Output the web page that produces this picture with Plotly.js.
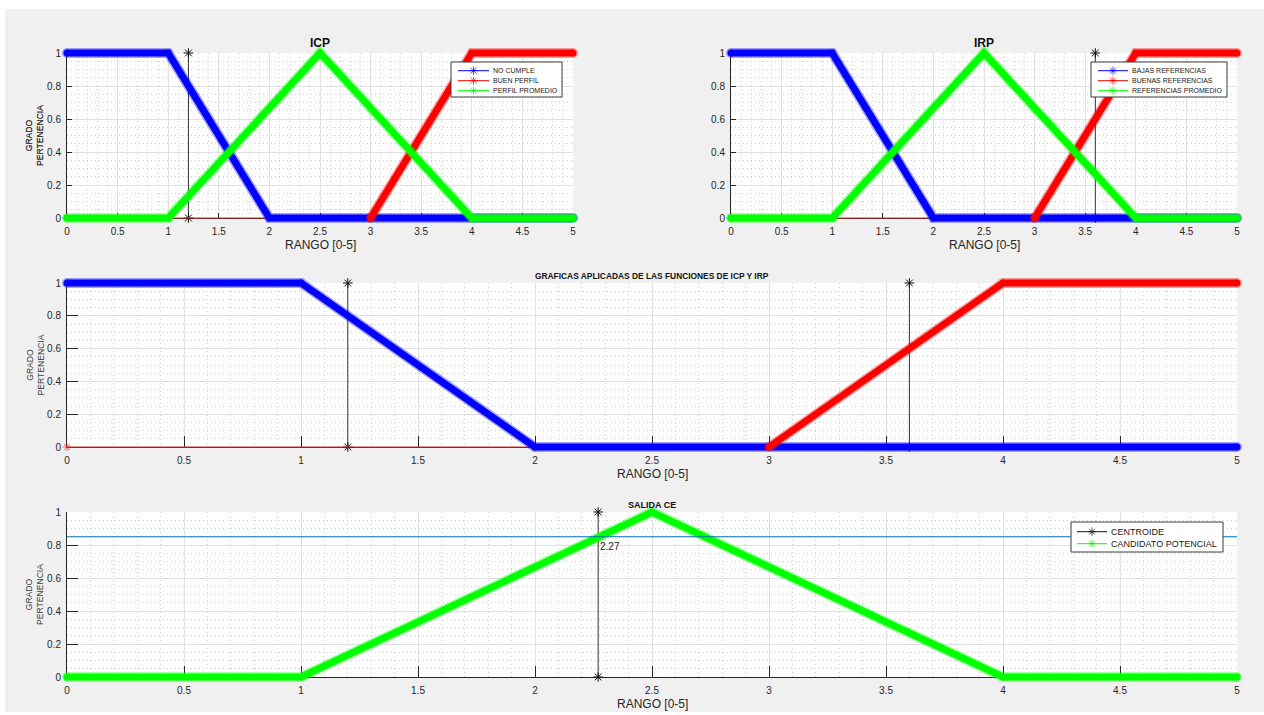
<!DOCTYPE html>
<html><head><meta charset="utf-8">
<script src="https://cdn.plot.ly/plotly-3.0.1.min.js"></script>
<style>
html,body{margin:0;padding:0;background:#ffffff;}
#chart{position:absolute;left:5px;top:9px;width:1259px;height:703px;}
</style>
</head><body>
<div id="chart"></div>
<script>
// ---------- DATA ----------
const xTicks = [0, 0.5, 1, 1.5, 2, 2.5, 3, 3.5, 4, 4.5, 5];
const xTickText = ['0', '0.5', '1', '1.5', '2', '2.5', '3', '3.5', '4', '4.5', '5'];
const yTicks = [0, 0.2, 0.4, 0.6, 0.8, 1];
const yTickText = ['0', '0.2', '0.4', '0.6', '0.8', '1'];
const rango = [0, 5];
const gradoRango = [0, 1];

// ICP
const noCumpleX = [0, 1, 2, 5];
const noCumpleY = [1, 1, 0, 0];
const buenPerfilX = [0, 3, 4, 5];
const buenPerfilY = [0, 0, 1, 1];
const perfilPromedioX = [0, 1, 2.5, 4, 5];
const perfilPromedioY = [0, 0, 1, 0, 0];
const entradaICP = 1.2;

// IRP
const bajasRefX = [0, 1, 2, 5];
const bajasRefY = [1, 1, 0, 0];
const buenasRefX = [0, 3, 4, 5];
const buenasRefY = [0, 0, 1, 1];
const refPromedioX = [0, 1, 2.5, 4, 5];
const refPromedioY = [0, 0, 1, 0, 0];
const entradaIRP = 3.6;

// Aplicadas
const aplicadaICPX = [0, 1, 2, 5];
const aplicadaICPY = [1, 1, 0, 0];
const aplicadaIRPX = [0, 3, 4, 5];
const aplicadaIRPY = [0, 0, 1, 1];

// Salida
const candidatoX = [0, 1, 2.5, 4, 5];
const candidatoY = [0, 0, 1, 0, 0];
const centroide = 2.27;
const nivelCorte = 0.85;

// ---------- LAYOUT GEOMETRY ----------
const W = 1259, H = 703, OX = 5, OY = 9, PAD = 10;
const FONT = 'Liberation Sans, Arial, Helvetica, sans-serif';
const AX = '#262626';
function xd(px) { return (px - OX) / W; }
function yd(py) { return 1 - (py - OY) / H; }
function lx(px) { return px - OX; }
function ly(py) { return py - OY; }

const panels = [
  {x0: 67, x1: 573, yt: 53, yb: 218, tl: 5},
  {x0: 731, x1: 1237, yt: 53, yb: 218, tl: 5},
  {x0: 67, x1: 1237, yt: 283, yb: 447, tl: 11},
  {x0: 67, x1: 1237, yt: 512, yb: 677, tl: 11}
];

const layout = {
  width: W, height: H,
  margin: {l: 0, r: 0, t: 0, b: 0, pad: 0},
  paper_bgcolor: '#f0f0f0',
  plot_bgcolor: 'rgba(0,0,0,0)',
  showlegend: false,
  hovermode: false,
  font: {family: FONT, color: AX},
  shapes: [],
  annotations: []
};

const MINOR = {showgrid: true, gridcolor: '#cfcfcf', griddash: '1px,3px', gridwidth: 1, ticks: ''};
panels.forEach((p, i) => {
  const s = i === 0 ? '' : String(i + 1);
  const m = String(i + 5);
  layout['xaxis' + s] = {
    domain: [xd(p.x0), xd(p.x1)], range: [0, 5], anchor: 'y' + s,
    tickmode: 'array', tickvals: xTicks, ticktext: xTickText,
    ticks: 'inside', ticklen: p.tl, tickwidth: 1, tickcolor: AX, ticklabelstandoff: 4,
    showline: true, linecolor: AX, linewidth: 1, mirror: false,
    showgrid: true, gridcolor: '#e0e0e0', gridwidth: 1, zeroline: false,
    minor: Object.assign({tickmode: 'linear', tick0: 0, dtick: 0.1}, MINOR),
    tickfont: {size: 10, color: AX, family: FONT}, fixedrange: true
  };
  layout['yaxis' + s] = {
    domain: [yd(p.yb), yd(p.yt)], range: [0, 1], anchor: 'x' + s,
    tickmode: 'array', tickvals: yTicks, ticktext: yTickText,
    ticks: 'inside', ticklen: p.tl, tickwidth: 1, tickcolor: AX, ticklabelstandoff: 3,
    showline: true, linecolor: AX, linewidth: 1, mirror: false,
    showgrid: true, gridcolor: '#e0e0e0', gridwidth: 1, zeroline: false,
    minor: Object.assign({tickmode: 'linear', tick0: 0, dtick: 0.05}, MINOR),
    tickfont: {size: 10, color: AX, family: FONT}, fixedrange: true
  };
  const dx = PAD * 5 / (p.x1 - p.x0), dy = PAD / (p.yb - p.yt);
  layout['xaxis' + m] = {domain: [xd(p.x0 - PAD), xd(p.x1 + PAD)], range: [-dx, 5 + dx], anchor: 'y' + m, visible: false, fixedrange: true};
  layout['yaxis' + m] = {domain: [yd(p.yb + PAD), yd(p.yt - PAD)], range: [-dy, 1 + dy], anchor: 'x' + m, visible: false, fixedrange: true};
  layout.shapes.push({type: 'rect', xref: 'x' + s, yref: 'y' + s, x0: 0, x1: 5, y0: 0, y1: 1, fillcolor: '#ffffff', line: {width: 0}, layer: 'below'});
});
layout.xaxis9 = {domain: [0, 1], range: [0, W], anchor: 'y9', visible: false, fixedrange: true};
layout.yaxis9 = {domain: [0, 1], range: [H, 0], anchor: 'x9', visible: false, fixedrange: true};

// ---------- TRACES ----------
const traces = [];
function ax(i) { return {xaxis: 'x' + (i + 5), yaxis: 'y' + (i + 5)}; }
function thick(x, y, color, i) {
  // soft halo imitating the jagged edge of the dense '*' markers
  traces.push(Object.assign({type: 'scatter', mode: 'lines+markers', x: x, y: y, opacity: 0.35,
    line: {color: color, width: 10}, marker: {symbol: 'circle', size: 10, color: color}, cliponaxis: false}, ax(i)));
  traces.push(Object.assign({type: 'scatter', mode: 'lines+markers', x: x, y: y,
    line: {color: color, width: 7}, marker: {symbol: 'circle', size: 7, color: color}, cliponaxis: false}, ax(i)));
}
function thin(x, y, color, i) {
  traces.push(Object.assign({type: 'scatter', mode: 'lines+markers', x: x, y: y,
    line: {color: color, width: 1}, marker: {symbol: 'asterisk-open', size: x.map((v, k) => k === 0 ? 7 : 0), color: color, line: {width: 1, color: color}}, cliponaxis: false}, ax(i)));
}
function vline(xv, i) {
  traces.push(Object.assign({type: 'scatter', mode: 'lines+markers', x: [xv, xv], y: gradoRango,
    line: {color: '#333333', width: 1}, marker: {symbol: 'asterisk-open', size: 8, color: '#111111', line: {width: 1, color: '#111111'}}, cliponaxis: false}, ax(i)));
}
const BLUE = '#0000ff', RED = '#ff0000', GREEN = '#00ff00';

// Panel ICP
vline(entradaICP, 0);
thin(buenPerfilX.slice(0, 2), buenPerfilY.slice(0, 2), '#e03030', 0);
thick(noCumpleX, noCumpleY, BLUE, 0);
thick(buenPerfilX.slice(1), buenPerfilY.slice(1), RED, 0);
thick(perfilPromedioX, perfilPromedioY, GREEN, 0);
// Panel IRP
vline(entradaIRP, 1);
thin(buenasRefX.slice(0, 2), buenasRefY.slice(0, 2), '#e03030', 1);
thick(bajasRefX, bajasRefY, BLUE, 1);
thick(buenasRefX.slice(1), buenasRefY.slice(1), RED, 1);
thick(refPromedioX, refPromedioY, GREEN, 1);
// Panel aplicadas
vline(entradaICP, 2);
vline(entradaIRP, 2);
thin(aplicadaIRPX.slice(0, 2), aplicadaIRPY.slice(0, 2), '#e03030', 2);
thick(aplicadaICPX, aplicadaICPY, BLUE, 2);
thick(aplicadaIRPX.slice(1), aplicadaIRPY.slice(1), RED, 2);
// Panel salida
vline(centroide, 3);
thick(candidatoX, candidatoY, GREEN, 3);
traces.push(Object.assign({type: 'scatter', mode: 'lines', x: rango, y: [nivelCorte, nivelCorte],
  line: {color: '#0072BD', width: 1.2}}, ax(3)));

// ---------- LEGENDS (drawn manually, MATLAB style) ----------
const legends = [
  {box: [451, 562, 62, 97], line: [458, 489], textX: 493, rows: [70.7, 80.7, 90.7], size: 7,
   items: [['NO CUMPLE', BLUE], ['BUEN PERFIL', RED], ['PERFIL PROMEDIO', GREEN]]},
  {box: [1091, 1227, 62, 97], line: [1098, 1128], textX: 1132, rows: [70.7, 80.7, 90.7], size: 7,
   items: [['BAJAS REFERENCIAS', BLUE], ['BUENAS REFERENCIAS', RED], ['REFERENCIAS PROMEDIO', GREEN]]},
  {box: [1071, 1223, 522, 552], line: [1077, 1107], textX: 1111, rows: [531.7, 543.7], size: 9,
   items: [['CENTROIDE', '#111111'], ['CANDIDATO POTENCIAL', GREEN]]}
];
legends.forEach(L => {
  layout.shapes.push({type: 'rect', xref: 'x9', yref: 'y9', x0: lx(L.box[0]), x1: lx(L.box[1]), y0: ly(L.box[2]), y1: ly(L.box[3]),
    fillcolor: '#ffffff', line: {color: '#3a3a3a', width: 1}, layer: 'below'});
  L.items.forEach((it, k) => {
    const yy = ly(L.rows[k]);
    traces.push({type: 'scatter', mode: 'lines+markers', xaxis: 'x9', yaxis: 'y9',
      x: [lx(L.line[0]), lx((L.line[0] + L.line[1]) / 2), lx(L.line[1])], y: [yy, yy, yy],
      line: {color: it[1], width: 1}, marker: {symbol: 'asterisk-open', size: [0, 7, 0], color: it[1], line: {width: 1, color: it[1]}}});
    layout.annotations.push({xref: 'x9', yref: 'y9', x: lx(L.textX) - 2, y: yy, xanchor: 'left', yanchor: 'middle',
      text: it[0], showarrow: false, font: {size: L.size, color: '#1a1a1a', family: FONT}});
  });
});

// ---------- TEXTS ----------
function txt(t, px, py, size, opts) {
  layout.annotations.push(Object.assign({xref: 'x9', yref: 'y9', x: lx(px), y: ly(py), xanchor: 'center', yanchor: 'middle',
    text: t, showarrow: false, font: {size: size, color: AX, family: FONT}}, opts || {}));
}
txt('<b>ICP</b>', 320, 43, 12, {font: {size: 12, color: '#111', family: FONT}});
txt('<b>IRP</b>', 984, 43, 12, {font: {size: 12, color: '#111', family: FONT}});
txt('<b>GRAFICAS APLICADAS DE LAS FUNCIONES DE ICP Y IRP</b>', 652, 276, 8.4, {font: {size: 8.4, color: '#111', family: FONT}});
txt('<b>SALIDA CE</b>', 652, 505, 9, {font: {size: 9, color: '#111', family: FONT}});
txt('RANGO [0-5]', 320, 245, 12);
txt('RANGO [0-5]', 984, 245, 12);
txt('RANGO [0-5]', 652, 474, 12);
txt('RANGO [0-5]', 652, 704, 12);
panels.forEach(p => {
  txt('GRADO<br>PERTENENCIA', 34.5, (p.yt + p.yb) / 2, 8.6, {textangle: -90, font: {size: 8.6, color: '#3a3a3a', family: FONT}});
});
layout.annotations.push({xref: 'x8', yref: 'y8', x: centroide, y: nivelCorte, xanchor: 'left', yanchor: 'top', yshift: -2,
  text: centroide.toFixed(2), showarrow: false, font: {size: 10, color: '#1a1a1a', family: FONT}});

Plotly.newPlot('chart', traces, layout, {displayModeBar: false, staticPlot: true});
</script>
</body></html>
